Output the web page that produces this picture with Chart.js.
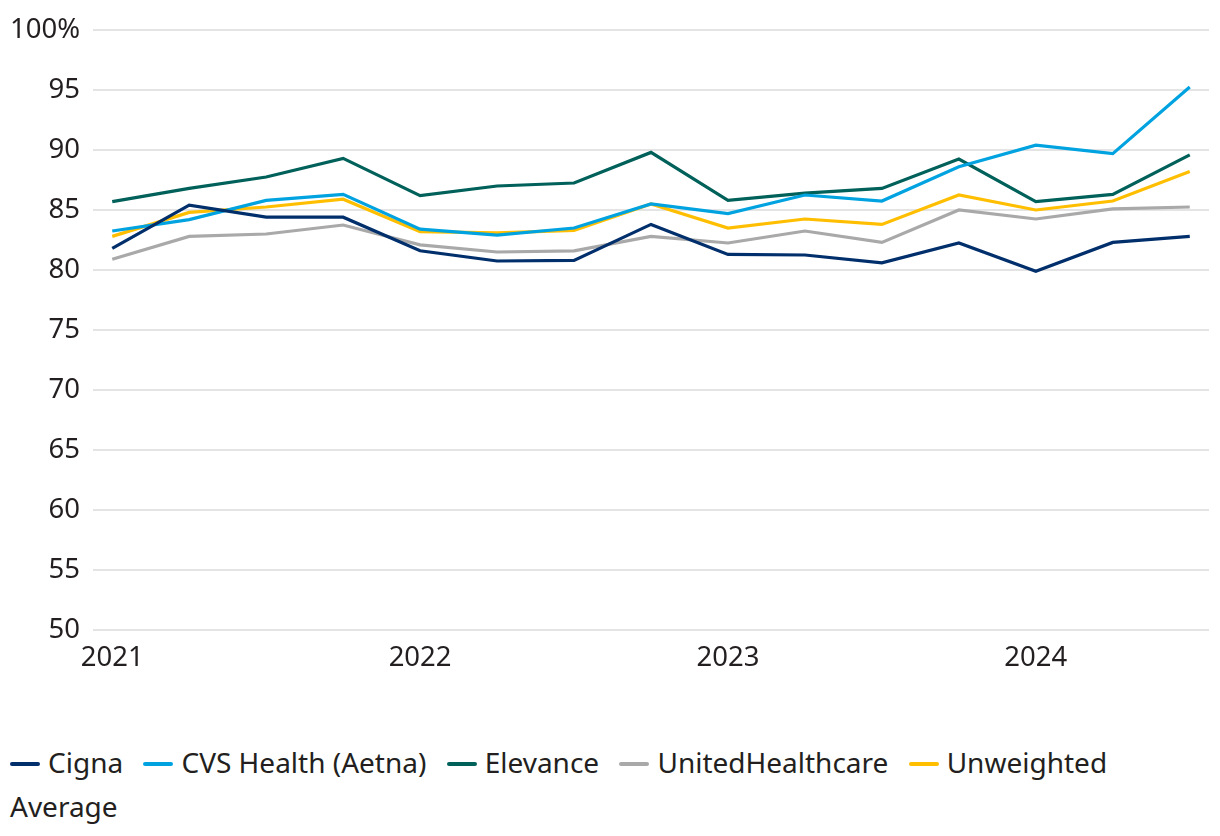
<!DOCTYPE html>
<html>
<head>
<meta charset="utf-8">
<script src="https://cdn.jsdelivr.net/npm/chart.js@4.4.1/dist/chart.umd.min.js"></script>
<style>
  html, body { margin: 0; padding: 0; background: #ffffff; }
  body { width: 1220px; height: 836px; position: relative; overflow: hidden; font-family: "Noto Sans", sans-serif; }
  #wrap { position: absolute; left: 0; top: 0; width: 1220px; height: 700px; }
  #legend { position: absolute; left: 10px; top: 740px; width: 1180px; font-size: 28px; line-height: 44px; color: #231f20; }
  .item { margin-right: 13px; }
  .sw { display: inline-block; width: 30px; height: 4px; border-radius: 2px; vertical-align: middle; margin-right: 8px; position: relative; top: -2px; }
</style>
</head>
<body>
<div id="wrap"><canvas id="c" width="1220" height="700"></canvas></div>
<div id="legend"></div>
<script>
const quarters = ['2021 Q1','2021 Q2','2021 Q3','2021 Q4','2022 Q1','2022 Q2','2022 Q3','2022 Q4','2023 Q1','2023 Q2','2023 Q3','2023 Q4','2024 Q1','2024 Q2','2024 Q3'];
const yearTicks = ['2021','2022','2023','2024'];
const seriesNames = ['Cigna','CVS Health (Aetna)','Elevance','UnitedHealthcare','Unweighted Average'];
const seriesColors = ['#002f6c','#00a3e0','#00605a','#a9a9a9','#ffbf00'];
const cigna      = [81.8, 85.4, 84.4, 84.4, 81.6, 80.75, 80.8, 83.8, 81.3, 81.25, 80.6, 82.25, 79.9, 82.3, 82.8];
const cvs        = [83.25, 84.2, 85.8, 86.3, 83.4, 82.9, 83.5, 85.5, 84.7, 86.25, 85.75, 88.6, 90.4, 89.7, 95.25];
const elevance   = [85.7, 86.8, 87.75, 89.3, 86.2, 87.0, 87.25, 89.8, 85.8, 86.4, 86.8, 89.25, 85.7, 86.3, 89.6];
const uhc        = [80.9, 82.8, 83.0, 83.75, 82.1, 81.5, 81.6, 82.8, 82.25, 83.25, 82.3, 85.0, 84.25, 85.1, 85.25];
const unweighted = [82.8, 84.8, 85.25, 85.9, 83.2, 83.1, 83.3, 85.5, 83.5, 84.25, 83.8, 86.25, 85.0, 85.75, 88.2];
const seriesValues = [cigna, cvs, elevance, uhc, unweighted];

const datasets = seriesNames.map((name, i) => ({
  label: name,
  data: seriesValues[i].map((v, j) => ({ x: j, y: v, q: quarters[j] })),
  borderColor: seriesColors[i],
  backgroundColor: seriesColors[i],
  borderWidth: 3.2,
  pointRadius: 0,
  tension: 0,
  fill: false
}));

const textColor = '#231f20';
new Chart(document.getElementById('c'), {
  type: 'line',
  data: { datasets },
  options: {
    responsive: false,
    animation: false,
    layout: { padding: { top: 30, right: 11, left: 0, bottom: 0 } },
    plugins: { legend: { display: false }, tooltip: { enabled: false } },
    scales: {
      x: {
        type: 'linear',
        min: -0.25,
        max: quarters.length - 0.75,
        afterBuildTicks: (s) => { s.ticks = yearTicks.map((t, k) => ({ value: k * 4 })); },
        afterFit: (s) => { s.height = 70; },
        grid: { display: false, drawTicks: false },
        border: { display: false },
        ticks: {
          autoSkip: false,
          maxRotation: 0,
          padding: 12,
          color: textColor,
          font: { family: 'Noto Sans', size: 27.5 },
          callback: (v) => yearTicks[Math.round(v / 4)]
        }
      },
      y: {
        min: 50,
        max: 100,
        afterFit: (s) => { s.width = 93; },
        grid: { color: '#e4e4e4', lineWidth: 2, drawTicks: false },
        border: { display: false },
        ticks: {
          stepSize: 5,
          padding: 13,
          color: textColor,
          font: { family: 'Noto Sans', size: 27.5 },
          callback: (v) => v === 100 ? '100%' : String(v)
        }
      }
    }
  }
});

const legend = document.getElementById('legend');
seriesNames.forEach((name, i) => {
  const item = document.createElement('span');
  item.className = 'item';
  const sw = document.createElement('span');
  sw.className = 'sw';
  sw.style.background = seriesColors[i];
  item.appendChild(sw);
  item.appendChild(document.createTextNode(name));
  legend.appendChild(item);
  legend.appendChild(document.createTextNode(' '));
});
</script>
</body>
</html>
